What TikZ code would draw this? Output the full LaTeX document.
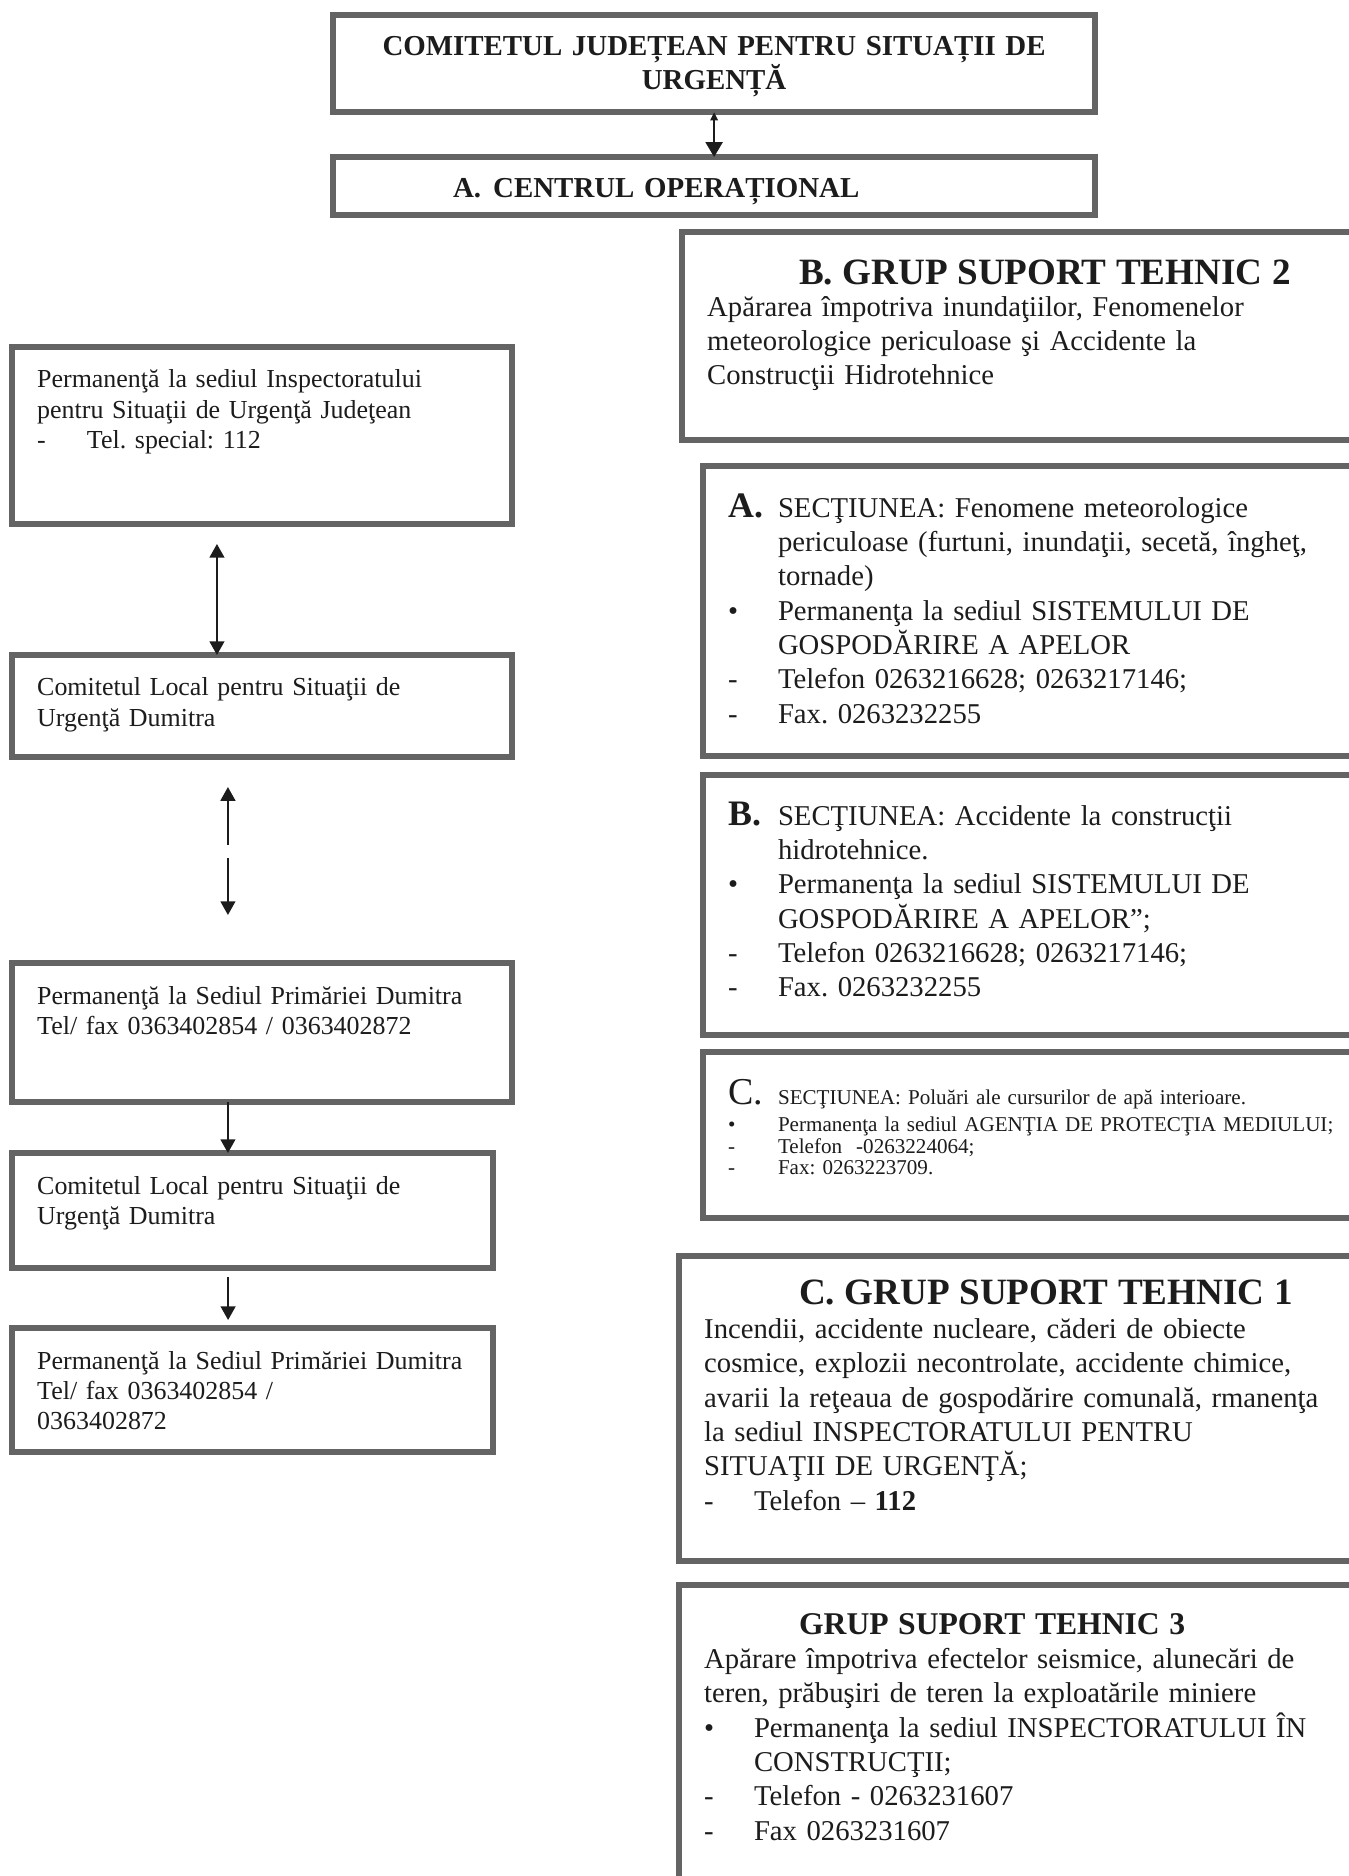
\documentclass[tikz,border=0pt]{standalone}
\usepackage{fontspec}
\setmainfont{Liberation Serif}
\usetikzlibrary{positioning,arrows.meta}
\definecolor{frame}{HTML}{646464}
\definecolor{ink}{HTML}{1C1C1C}
\newcommand{\mrk}[1]{\makebox[0.83cm][l]{#1}}
\frenchspacing

\begin{document}
\begin{tikzpicture}[x=0.016667cm,y=-0.016667cm,
                    panel/.style={draw=frame,line width=2.6pt,fill=white,anchor=north west,
                                  inner xsep=0.42cm,inner ysep=0pt,outer sep=0pt,align=left,text=ink},
                    titlebox/.style={panel,font=\fontsize{13.7}{15.2}\selectfont\bfseries,text width=11.86cm},
                    leftbox/.style={panel,font=\fontsize{12.3}{14.4}\selectfont,text width=7.49cm,text height=0.683cm},
                    rightbox/.style={panel,font=\fontsize{13.6}{16.3}\selectfont,text width=11cm},
                    link/.style={draw=ink,line width=1pt},
                    >={Triangle[width=7pt,length=6.5pt]}
                   ]
  \useasboundingbox (0,0) rectangle (1348,1876);
  \fill[white] (0,0) rectangle (1348,1876);

  % top of the chart
  \node[titlebox,align=center,text height=0.667cm,text depth=0.95cm] (jud) at (333,15)
       {COMITETUL JUDEȚEAN PENTRU SITUAȚII DE\\URGENȚĂ};
  \node[titlebox,text height=0.683cm,text depth=0.284cm] (co) at (333,157)
       {\hspace*{1.58cm}\makebox[0.67cm][l]{A.}CENTRUL OPERAȚIONAL};

  % left column
  \node[leftbox,text depth=2.266cm] (l1) at (12,347)
       {Permanenţă la sediul Inspectoratului\\
        pentru Situaţii de Urgenţă Judeţean\\
        \mrk{-}Tel. special: 112};
  \node[leftbox,text depth=1.017cm] (l2) at (12,655)
       {Comitetul Local pentru Situaţii de\\
        Urgenţă Dumitra};
  \node[leftbox,text depth=1.634cm] (l3) at (12,963)
       {Permanenţă la Sediul Primăriei Dumitra\\
        Tel/ fax 0363402854 / 0363402872};
  \node[leftbox,text width=7.177cm,text depth=1.234cm] (l4) at (12,1153)
       {Comitetul Local pentru Situaţii de\\
        Urgenţă Dumitra};
  \node[leftbox,text width=7.177cm,text depth=1.384cm] (l5) at (12,1328)
       {Permanenţă la Sediul Primăriei Dumitra\\
        Tel/ fax 0363402854 /\\
        0363402872};

  % right column
  \node[rightbox,text width=11.3cm,text height=0.883cm,text depth=2.584cm] (gst2) at (682,232)
       {{\fontsize{17.6}{16}\selectfont\bfseries\hspace*{1.53cm}B. GRUP SUPORT TEHNIC 2}\\[-1.5pt]
        Apărarea împotriva inundaţiilor, Fenomenelor\\
        meteorologice periculoase şi Accidente la\\
        Construcţii Hidrotehnice};
  \node[rightbox,text height=0.85cm,text depth=3.983cm] (secta) at (703,466)
       {\mrk{\fontsize{17}{17}\selectfont\bfseries A.}SECŢIUNEA: Fenomene meteorologice\\
        \mrk{}periculoase (furtuni, inundaţii, secetă, îngheţ,\\
        \mrk{}tornade)\\
        \mrk{\textbullet}Permanenţa la sediul SISTEMULUI DE\\
        \mrk{}GOSPODĂRIRE A APELOR\\
        \mrk{-}Telefon 0263216628; 0263217146;\\
        \mrk{-}Fax. 0263232255};
  \node[rightbox,text height=0.833cm,text depth=3.5cm] (sectb) at (703,775)
       {\mrk{\fontsize{17}{17}\selectfont\bfseries B.}SECŢIUNEA: Accidente la construcţii\\
        \mrk{}hidrotehnice.\\
        \mrk{\textbullet}Permanenţa la sediul SISTEMULUI DE\\
        \mrk{}GOSPODĂRIRE A APELOR";\\
        \mrk{-}Telefon 0263216628; 0263217146;\\
        \mrk{-}Fax. 0263232255};
  \node[rightbox,font=\fontsize{10}{10.2}\selectfont,text height=0.88cm,text depth=1.887cm] (sectc) at (703,1052)
       {\mrk{\fontsize{18}{18}\selectfont C.}SECŢIUNEA: Poluări ale cursurilor de apă interioare.\\[2.5pt]
        \mrk{\textbullet}Permanenţa la sediul AGENŢIA DE PROTECŢIA MEDIULUI;\\
        \mrk{-}Telefon\ \ -0263224064;\\
        \mrk{-}Fax: 0263223709.};
  \node[rightbox,text width=11.3cm,text height=0.8cm,text depth=4.283cm] (gst1) at (679,1256)
       {{\fontsize{17.6}{16}\selectfont\bfseries\hspace*{1.58cm}C. GRUP SUPORT TEHNIC 1}\\
        Incendii, accidente nucleare, căderi de obiecte\\
        cosmice, explozii necontrolate, accidente chimice,\\
        avarii la reţeaua de gospodărire comunală, rmanenţa\\
        la sediul INSPECTORATULUI PENTRU\\
        SITUAŢII DE URGENŢĂ;\\
        \mrk{-}Telefon – \textbf{112}};
  \node[rightbox,text width=11.3cm,text height=0.817cm,text depth=4.433cm] (gst3) at (679,1585)
       {{\fontsize{15}{16}\selectfont\bfseries\hspace*{1.58cm}GRUP SUPORT TEHNIC 3}\\
        Apărare împotriva efectelor seismice, alunecări de\\
        teren, prăbuşiri de teren la exploatările miniere\\
        \mrk{\textbullet}Permanenţa la sediul INSPECTORATULUI ÎN\\
        \mrk{}CONSTRUCŢII;\\
        \mrk{-}Telefon - 0263231607\\
        \mrk{-}Fax 0263231607};

  % connectors
  \path (jud) edge[link,{Triangle[width=3.5pt,length=4pt]}-{Triangle[width=8pt,length=7pt]}] (co);
  \path ([xshift=-0.75cm]l1.south) edge[link,<->,shorten <=0.333cm] ([xshift=-0.75cm]l2.north);
  \path ([xshift=-0.567cm]l2.south) edge[link,<-,shorten <=0.5cm,shorten >=1.967cm] ([xshift=-0.567cm]l3.north);
  \path ([xshift=-0.567cm]l2.south) edge[link,->,shorten <=1.683cm,shorten >=0.8cm] ([xshift=-0.567cm]l3.north);
  \path ([xshift=-0.567cm]l3.south) edge[link,->] ([xshift=-0.567cm]l3.south |- l4.north);
  \path ([xshift=-0.408cm]l4.south) edge[link,->,shorten <=0.15cm,shorten >=0.133cm] ([xshift=-0.408cm]l5.north);
\end{tikzpicture}
\end{document}
